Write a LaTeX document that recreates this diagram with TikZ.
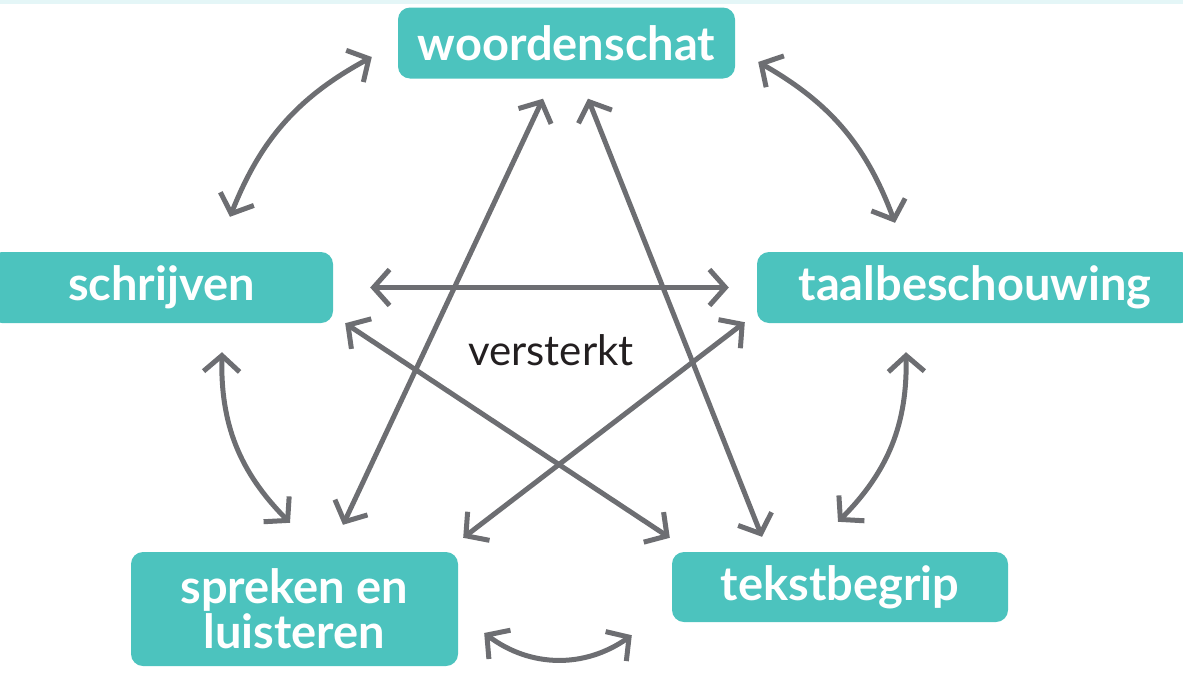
\documentclass[tikz,border=0pt]{standalone}
\usepackage{fontspec}
\setmainfont{Lato}
\usetikzlibrary{arrows.meta,calc}
\definecolor{teal}{HTML}{4CC3BE}
\definecolor{arrowgray}{HTML}{6D6E72}
\definecolor{darktext}{HTML}{231F20}
\definecolor{topband}{HTML}{E4F6F7}
\tikzset{
  topic/.style={rectangle, rounded corners=12pt, fill=teal, text=white,
    font=\fontsize{47}{45}\selectfont\bfseries, inner sep=0pt, align=center},
  link/.style={draw=arrowgray, line width=5pt,
    {Straight Barb[length=16pt,width=36pt]}-{Straight Barb[length=16pt,width=36pt]}},
}
\begin{document}
\begin{tikzpicture}[x=1pt,y=1pt]
\useasboundingbox (0,0) rectangle (1183,-672);
\fill[topband] (0,0) rectangle (1183,-4);
% nodes
\node[topic, minimum width=337pt, minimum height=71pt] (w) at (566.5,-43) {woordenschat};
\node[topic, minimum width=343pt, minimum height=71pt] (s) at (161.5,-287.5) {schrijven};
\node[topic, minimum width=436pt, minimum height=71pt] (t) at (975,-287.5) {taalbeschouwing};
\node[topic, minimum width=327pt, minimum height=114pt] (sp) at (294.5,-609) {spreken en\\luisteren};
\node[topic, minimum width=336pt, minimum height=70pt] (tb) at (840,-587) {tekstbegrip};
\node[text=darktext, font=\fontsize{42}{46}\selectfont, inner sep=0pt] (v) at (551,-350) {versterkt};
% curved links
\draw[link] ([shift={(68.5,35)}]s.north) to[bend left=20] ([shift={(-26,-14)}]w.west);
\draw[link] ([shift={(23,-19)}]w.east) to[bend left=20] ([shift={(-80,29)}]t.north);
\draw[link] ([shift={(60.5,-29)}]s.south) to[bend right=23] ([shift={(-4.5,29)}]sp.north);
\draw[link] ([shift={(-69,-29)}]t.south) to[bend left=23] ([shift={(-2,30)}]tb.north);
\draw[link] ([shift={(26,-24)}]sp.east) to[bend right=36] ([shift={(-40,-13)}]tb.south west);
% straight links
\draw[link] ([shift={(-23.5,-20)}]w.south) -- ([shift={(48.5,27)}]sp.north);
\draw[link] ([shift={(21.5,-20)}]w.south) -- ([shift={(-78,15)}]tb.north);
\draw[link] ([shift={(37,0)}]s.east) -- ([shift={(-28,0)}]t.west);
\draw[link] ([shift={(12,0)}]s.south east) -- ([shift={(-2,14)}]tb.north west);
\draw[link] ([shift={(-12,1)}]t.south west) -- ([shift={(5,14)}]sp.north east);
\end{tikzpicture}
\end{document}
